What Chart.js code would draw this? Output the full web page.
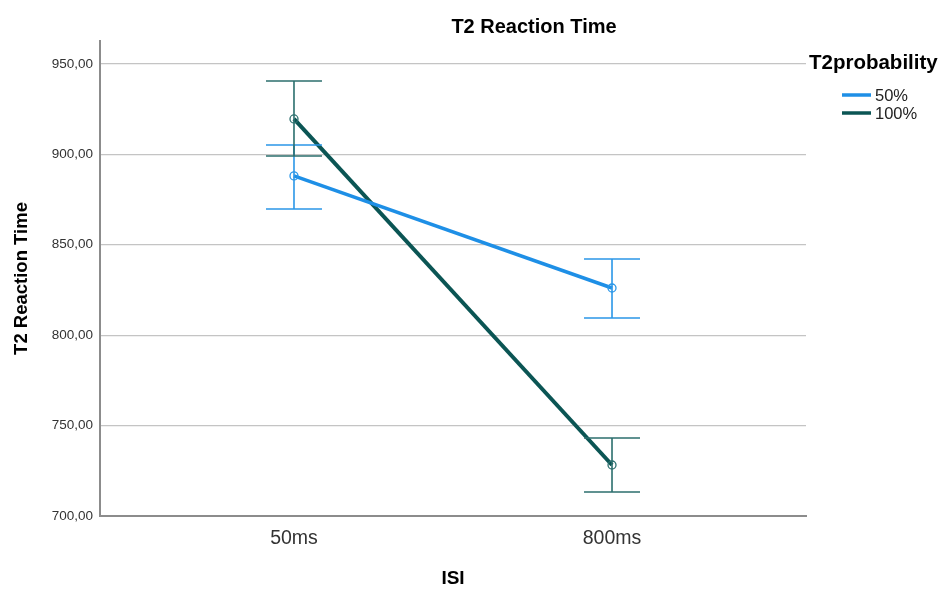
<!DOCTYPE html>
<html>
<head>
<meta charset="utf-8">
<script src="https://cdn.jsdelivr.net/npm/chart.js@4/dist/chart.umd.min.js"></script>
<style>
html,body{margin:0;padding:0;background:#fff;}
#wrap{width:945px;height:590px;position:relative;}
</style>
</head>
<body>
<div id="wrap"><canvas id="c" width="945" height="590"></canvas></div>
<script>
const categories = ["50ms", "800ms"];
const seriesNames = ["50%", "100%"];
const means50 = [888.1, 826.1];
const low50 = [869.8, 809.5];
const high50 = [905.2, 842.1];
const means100 = [919.6, 728.2];
const low100 = [899.1, 713.3];
const high100 = [940.6, 743.1];
const yTicks = [700, 750, 800, 850, 900, 950];
const chartTitle = "T2 Reaction Time";
const legendTitle = "T2probability";
const xTitle = "ISI";
const yTitle = "T2 Reaction Time";

const colors = ["#1e8fe6", "#0b5554"];
const errColors = ["#2b97e8", "#2c6f6e"];
const FONT = "'Liberation Sans', Arial, sans-serif";

const seriesData = [
  {means: means50, low: low50, high: high50},
  {means: means100, low: low100, high: high100}
];

const datasets = seriesData.map((s, i) => ({
  label: seriesNames[i],
  data: s.means.map((v, k) => ({x: k, y: v})),
  borderColor: colors[i],
  backgroundColor: 'rgba(0,0,0,0)',
  borderWidth: i === 0 ? 3.5 : 4,
  pointRadius: 4,
  pointBorderWidth: 1.3,
  pointBorderColor: errColors[i],
  pointBackgroundColor: 'rgba(255,255,255,0)',
  tension: 0
}));

const errorBars = {
  id: 'errorBars',
  afterDatasetsDraw(chart) {
    const ctx = chart.ctx;
    const xs = chart.scales.x, ys = chart.scales.y;
    ctx.save();
    seriesData.forEach((s, i) => {
      ctx.strokeStyle = errColors[i];
      ctx.lineWidth = 1.6;
      s.means.forEach((m, k) => {
        const x = xs.getPixelForValue(k);
        const yl = ys.getPixelForValue(s.low[k]);
        const yh = ys.getPixelForValue(s.high[k]);
        const w = 28;
        ctx.beginPath();
        ctx.moveTo(x, yl); ctx.lineTo(x, yh);
        ctx.moveTo(x - w, yl); ctx.lineTo(x + w, yl);
        ctx.moveTo(x - w, yh); ctx.lineTo(x + w, yh);
        ctx.stroke();
      });
    });
    ctx.restore();
  }
};

const decor = {
  id: 'decor',
  afterDraw(chart) {
    const ctx = chart.ctx;
    ctx.save();
    ctx.fillStyle = '#000';
    ctx.font = "bold 20px " + FONT;
    ctx.textAlign = 'center';
    ctx.textBaseline = 'middle';
    ctx.fillText(chartTitle, 534, 27);
    // legend
    ctx.textAlign = 'left';
    ctx.font = "bold 20.5px " + FONT;
    ctx.fillText(legendTitle, 809, 63);
    ctx.font = "16.5px " + FONT;
    ctx.fillStyle = '#222';
    chart.data.datasets.forEach((d, i) => {
      const y = 95 + i * 18;
      ctx.strokeStyle = colors[i];
      ctx.lineWidth = 3.5;
      ctx.beginPath();
      ctx.moveTo(842, y); ctx.lineTo(871, y);
      ctx.stroke();
      ctx.fillText(d.label, 875, y + 1);
    });
    ctx.restore();
  }
};

new Chart(document.getElementById('c'), {
  type: 'line',
  data: {datasets},
  options: {
    responsive: false,
    animation: false,
    layout: {padding: {left: 0, right: 139, top: 41, bottom: 0}},
    plugins: {legend: {display: false}, title: {display: false}, tooltip: {enabled: false}},
    scales: {
      x: {
        type: 'linear',
        min: -0.61,
        max: 1.61,
        afterBuildTicks: (s) => { s.ticks = categories.map((c, k) => ({value: k})); },
        afterFit: (s) => { s.height = 74; },
        grid: {display: false, drawTicks: false},
        border: {display: true, color: '#8c8c8c', width: 2},
        ticks: {
          callback: (v) => categories[v] ?? '',
          font: {family: FONT, size: 19.5},
          color: '#333',
          padding: 11,
          maxRotation: 0
        },
        title: {display: true, text: xTitle, font: {family: FONT, size: 19, weight: 'bold'}, color: '#000', padding: {top: 12, bottom: 0}}
      },
      y: {
        min: 700,
        max: 962.7,
        afterBuildTicks: (s) => { s.ticks = yTicks.map(v => ({value: v})); },
        afterFit: (s) => { s.width = 100; },
        grid: {color: '#c4c4c4', lineWidth: 1.2, drawTicks: false},
        border: {display: true, color: '#8c8c8c', width: 2},
        ticks: {
          callback: (v) => v.toFixed(2).replace('.', ','),
          font: {family: FONT, size: 13.5},
          color: '#333',
          padding: 7
        },
        title: {display: true, text: yTitle, font: {family: FONT, size: 18.5, weight: 'bold'}, color: '#000', padding: {top: 11, bottom: 0}}
      }
    }
  },
  plugins: [errorBars, decor]
});
</script>
</body>
</html>
